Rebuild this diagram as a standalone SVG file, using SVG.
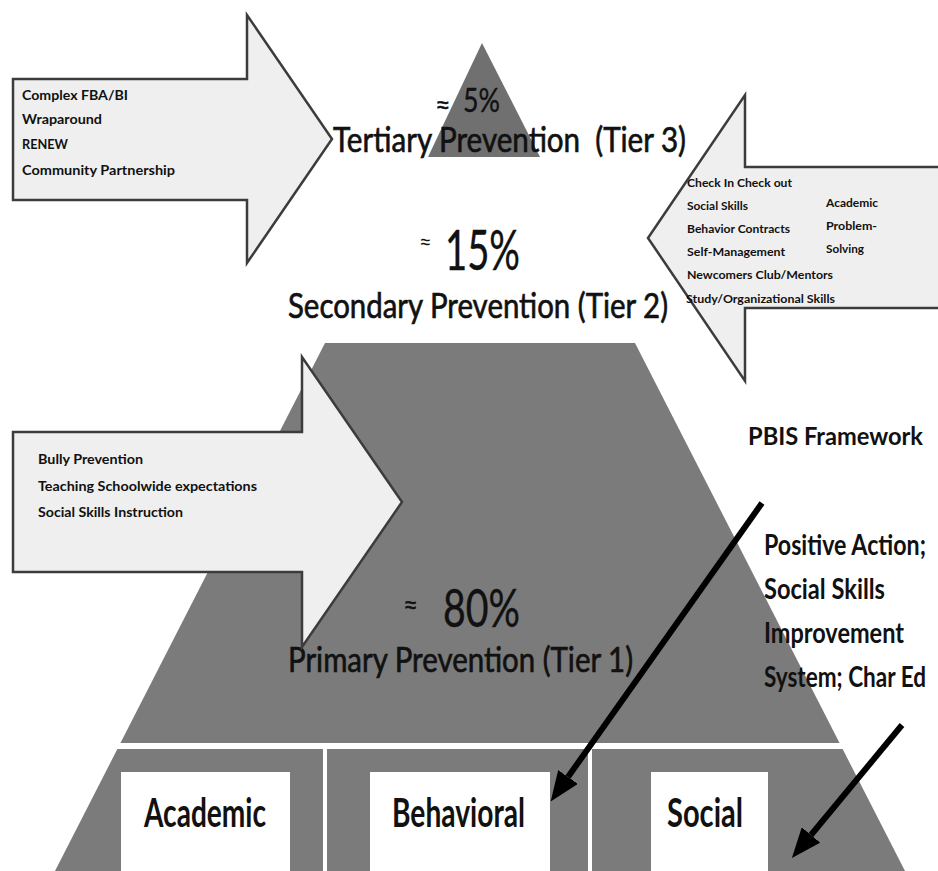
<svg xmlns="http://www.w3.org/2000/svg" width="938" height="871" viewBox="0 0 938 871">
  <style>
    .bg { fill: #ffffff; }
    .pyr { fill: #7b7b7b; }
    .apex { fill: #707070; }
    .band { fill: #ffffff; }
    .box { fill: #ffffff; }
    .arrowbox { fill: #efefef; stroke: #3c3c3c; stroke-width: 2.5; stroke-linejoin: miter; }
    .t { font-family: Lato, "Open Sans", "Liberation Sans", sans-serif; fill: #111111; }
    .item { font-size: 14px; font-weight: 700; }
    .item-s { font-size: 11.5px; font-weight: 700; }
    .tier { font-size: 26px; font-weight: 400; stroke: #111111; stroke-width: 0.5; }
    .pct { font-weight: 400; stroke: #111111; stroke-width: 0.4; }
    .approx { font-size: 22px; font-weight: 400; }
    .side { font-weight: 700; }
    .prog { font-size: 23px; font-weight: 700; }
    .domain { font-size: 40px; font-weight: 700; }
    .conn { stroke: #000000; stroke-width: 6; fill: none; }
  </style>
  <defs>
    <marker id="head" markerUnits="userSpaceOnUse" markerWidth="30" markerHeight="24" viewBox="0 0 30 24" refX="0" refY="12" orient="auto">
      <path d="M0,0 L30,12 L0,24 Z" fill="#000000"/>
    </marker>
  </defs>

  <rect class="bg" x="0" y="0" width="938" height="871"/>

  <!-- Tier 1 pyramid body with the three domain columns -->
  <g id="tier1">
    <polygon class="pyr" points="325,343 635,343 905,871 55,871"/>
    <rect class="band" x="100" y="743" width="760" height="6"/>
    <rect class="band" x="323" y="749" width="4" height="122"/>
    <rect class="band" x="588" y="749" width="4" height="122"/>
    <text class="t pct" x="403" y="614" style="font-size:26px">≈</text>
    <text class="t pct" x="443" y="627" style="font-size:52px" textLength="77" lengthAdjust="spacingAndGlyphs">80%</text>
    <text class="t tier" transform="translate(288,672) scale(1,1.3)" x="0" y="0" textLength="345" lengthAdjust="spacingAndGlyphs">Primary Prevention (Tier 1)</text>
  </g>

  <g id="domain-academic">
    <rect class="box" x="121" y="772" width="169" height="99"/>
    <text class="t domain" x="144" y="827" textLength="122" lengthAdjust="spacingAndGlyphs">Academic</text>
  </g>
  <g id="domain-behavioral">
    <rect class="box" x="370" y="772" width="180" height="99"/>
    <text class="t domain" x="392" y="827" textLength="133" lengthAdjust="spacingAndGlyphs">Behavioral</text>
  </g>
  <g id="domain-social">
    <rect class="box" x="651" y="772" width="117" height="99"/>
    <text class="t domain" x="667" y="827" textLength="76" lengthAdjust="spacingAndGlyphs">Social</text>
  </g>

  <!-- Tier 3 apex -->
  <g id="tier3">
    <polygon class="apex" points="482,43 540,157 428,157"/>
    <text class="t pct" x="435" y="114" style="font-size:27px">≈</text>
    <text class="t pct" x="463" y="112" style="font-size:33px" textLength="37" lengthAdjust="spacingAndGlyphs">5%</text>
  </g>

  <!-- Tier 3 supports (arrow pointing right) -->
  <g id="tier3-supports">
    <polygon class="arrowbox" points="13,79 247,79 247,15 332,139 247,263 247,200 13,200"/>
    <text class="t item" x="22" y="100" textLength="106" lengthAdjust="spacingAndGlyphs">Complex FBA/BI</text>
    <text class="t item" x="22" y="124" textLength="80" lengthAdjust="spacingAndGlyphs">Wraparound</text>
    <text class="t item" x="22" y="149" textLength="46" lengthAdjust="spacingAndGlyphs">RENEW</text>
    <text class="t item" x="22" y="175" textLength="153" lengthAdjust="spacingAndGlyphs">Community Partnership</text>
  </g>

  <g id="tier3-label">
    <text class="t tier" transform="translate(333,152) scale(1,1.3)" x="0" y="0" xml:space="preserve" textLength="353" lengthAdjust="spacingAndGlyphs">Tertiary Prevention  (Tier 3)</text>
  </g>

  <!-- Tier 2 supports (arrow pointing left) -->
  <g id="tier2-supports">
    <polygon class="arrowbox" points="945,167 745,167 745,95 648,238 745,381 745,308 945,308"/>
    <text class="t item-s" x="687" y="187" textLength="105" lengthAdjust="spacingAndGlyphs">Check In Check out</text>
    <text class="t item-s" x="687" y="210" textLength="61" lengthAdjust="spacingAndGlyphs">Social Skills</text>
    <text class="t item-s" x="687" y="233" textLength="103" lengthAdjust="spacingAndGlyphs">Behavior Contracts</text>
    <text class="t item-s" x="687" y="256" textLength="98" lengthAdjust="spacingAndGlyphs">Self-Management</text>
    <text class="t item-s" x="687" y="279" textLength="146" lengthAdjust="spacingAndGlyphs">Newcomers Club/Mentors</text>
    <text class="t item-s" x="686" y="303" textLength="149" lengthAdjust="spacingAndGlyphs">Study/Organizational Skills</text>
    <text class="t item-s" x="826" y="207" textLength="52" lengthAdjust="spacingAndGlyphs">Academic</text>
    <text class="t item-s" x="826" y="230" textLength="51" lengthAdjust="spacingAndGlyphs">Problem-</text>
    <text class="t item-s" x="826" y="253" textLength="38" lengthAdjust="spacingAndGlyphs">Solving</text>
  </g>

  <!-- Tier 2 labels -->
  <g id="tier2">
    <text class="t approx" x="419" y="249">≈</text>
    <text class="t pct" x="445" y="270" style="font-size:56px" textLength="75" lengthAdjust="spacingAndGlyphs">15%</text>
    <text class="t tier" transform="translate(288,318) scale(1,1.3)" x="0" y="0" textLength="380" lengthAdjust="spacingAndGlyphs">Secondary Prevention (Tier 2)</text>
  </g>

  <!-- Tier 1 supports (arrow pointing right, over the pyramid) -->
  <g id="tier1-supports">
    <polygon class="arrowbox" points="13,432 302,432 302,357 402,502 302,647 302,572 13,572"/>
    <text class="t item" x="38" y="464" textLength="105" lengthAdjust="spacingAndGlyphs">Bully Prevention</text>
    <text class="t item" x="38" y="491" textLength="219" lengthAdjust="spacingAndGlyphs">Teaching Schoolwide expectations</text>
    <text class="t item" x="38" y="517" textLength="145" lengthAdjust="spacingAndGlyphs">Social Skills Instruction</text>
  </g>

  <g id="pbis-label">
    <text class="t side" x="748" y="445" style="font-size:25px" textLength="175" lengthAdjust="spacingAndGlyphs">PBIS Framework</text>
  </g>

  <!-- Programme list: narrow glyphs stretched upright to a 20px cap height -->
  <g id="programs-label">
    <text class="t prog" transform="translate(764,555) scale(1,1.2)" x="0" y="0" textLength="162" lengthAdjust="spacingAndGlyphs">Positive Action;</text>
    <text class="t prog" transform="translate(764,599) scale(1,1.2)" x="0" y="0" textLength="121" lengthAdjust="spacingAndGlyphs">Social Skills</text>
    <text class="t prog" transform="translate(764,643) scale(1,1.2)" x="0" y="0" textLength="140" lengthAdjust="spacingAndGlyphs">Improvement</text>
    <text class="t prog" transform="translate(764,687) scale(1,1.2)" x="0" y="0" textLength="162" lengthAdjust="spacingAndGlyphs">System; Char Ed</text>
  </g>

  <!-- Connectors -->
  <g id="connectors">
    <path class="conn" d="M762,503 L568,777" marker-end="url(#head)"/>
    <path class="conn" d="M902,725 L811,835" marker-end="url(#head)"/>
  </g>
</svg>
